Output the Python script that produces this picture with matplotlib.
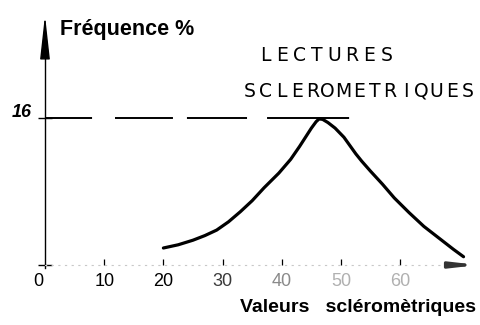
import matplotlib
matplotlib.use("Agg")
import matplotlib.pyplot as plt

# Frequency distribution of sclerometer readings
valeurs = [20, 22.5, 25, 27, 29, 31, 33, 35, 37, 39.5, 41.5, 43, 44, 45, 45.8, 46.3,
           46.9, 47.8, 49, 50.5, 51.5, 52.5, 53.5, 55, 57, 59, 61.5, 64, 67, 69, 70.7]
frequence = [1.85, 2.2, 2.7, 3.2, 3.8, 4.7, 5.8, 7.0, 8.4, 10.0, 11.5, 12.9, 13.9, 14.9, 15.6, 15.9,
             15.85, 15.5, 14.9, 13.9, 13.0, 12.1, 11.3, 10.2, 8.8, 7.3, 5.7, 4.2, 2.7, 1.7, 0.9]

x_ticks = [0, 10, 20, 30, 40, 50, 60]
x_tick_labels = ["0", "10", "20", "30", "40", "50", "60"]
x_tick_colors = ["black", "black", "black", "#3a3a3a", "#8a8a8a", "#b0b0b0", "#b0b0b0"]

ref_level = 16
ref_end = 51.5
ref_label = "16"

title_y = "Fréquence %"
title_x = "Valeurs   scléromètriques"
caption_lines = ["LECTURES", "SCLEROMETRIQUES"]

fig = plt.figure(figsize=(4.8, 3.25), dpi=100)
ax = fig.add_axes([0, 0, 1, 1])
ax.set_xlim(-7.60, 73.48)
ax.set_ylim(-6.53, 28.84)

# axes through the origin
for side in ("top", "right"):
    ax.spines[side].set_visible(False)
ax.spines["left"].set_position(("data", 0))
ax.spines["bottom"].set_position(("data", 0))
ax.spines["left"].set_bounds(-0.35, 23.0)
ax.spines["left"].set_linewidth(1.0)
ax.spines["bottom"].set_bounds(0, 68)
ax.spines["bottom"].set_linewidth(0.8)
ax.spines["bottom"].set_color("#c8c8c8")
ax.spines["bottom"].set_linestyle((0, (1, 5)))

ax.set_xticks(x_ticks[1:])
ax.set_xticklabels([])
ax.tick_params(axis="x", direction="in", length=4, width=0.9, color="black")
ax.set_yticks([0, ref_level])
ax.set_yticklabels([])
ax.tick_params(axis="y", direction="inout", length=10, width=1.0, color="black")

# arrow heads on both axes
ax.annotate("", xy=(0, 27.2), xytext=(0, 23.0),
            arrowprops=dict(arrowstyle="-|>,head_length=2.7,head_width=0.3",
                            mutation_scale=10, color="black", lw=1.0,
                            shrinkA=0, shrinkB=0))
ax.annotate("", xy=(73.2, 0), xytext=(67.8, 0),
            arrowprops=dict(arrowstyle="-|>,head_length=1.4,head_width=0.16",
                            mutation_scale=10, color="#333333", lw=2.2,
                            shrinkA=0, shrinkB=0))

# dashed reference line at the peak level
ax.hlines(ref_level, 0, ref_end, colors="black", lw=1.4,
          linestyles=[(0, (24.2, 11.8, 29.8, 7.2, 30.9, 10.3, 42.2, 36))])

# distribution curve
ax.plot(valeurs, frequence, color="black", lw=2.3,
        solid_capstyle="round", solid_joinstyle="round")

# tick labels
for v, lab, col in zip(x_ticks, x_tick_labels, x_tick_colors):
    xv = v - 1.2 if v == 0 else v
    ax.text(xv, -1.75, lab, ha="center", va="center", fontsize=13,
            family="Liberation Sans", color=col)
ax.text(-3.9, 16.65, ref_label, ha="center", va="center", fontsize=13,
        family="Liberation Sans", weight="bold", style="italic")

# axis titles
ax.text(2.5, 25.0, title_y, ha="left", va="baseline", fontsize=15.5,
        family="Liberation Sans", weight="bold")
ax.text(32.9, -5.1, title_x, ha="left", va="baseline", fontsize=14,
        family="Liberation Sans", weight="bold")

# letter-spaced caption
caption_pos = [((265 - 45) / 5.92, 22.23, 12.5), ((250 - 45) / 5.92, 18.31, 11.2)]
for line, (x0, y0, pitch) in zip(caption_lines, caption_pos):
    for i, ch in enumerate(line):
        ax.annotate(ch, xy=(x0, y0), xytext=(i * pitch, 0),
                    textcoords="offset points", ha="center", va="baseline",
                    fontsize=13.5, family="DejaVu Sans", color="black")

fig.savefig("out.png", dpi=100)
